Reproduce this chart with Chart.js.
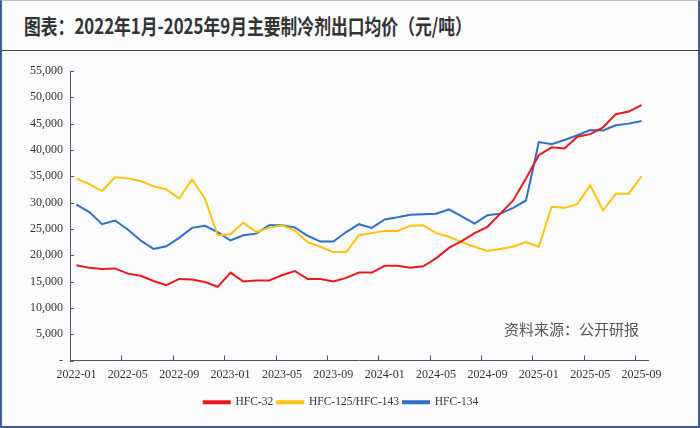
<!DOCTYPE html>
<html>
<head>
<meta charset="utf-8">
<script src="https://cdn.jsdelivr.net/npm/chart.js@4.4.0/dist/chart.umd.min.js"></script>
<style>
  html, body { margin: 0; padding: 0; }
  body { width: 700px; height: 428px; overflow: hidden; }
  #frame {
    position: relative; width: 700px; height: 428px; box-sizing: border-box;
    background: #fbfcfe; border: 2px solid #3f5d8f; border-top: 1px solid #b8c2d4;
  }
  #title {
    position: absolute; left: 22px; top: 7px; height: 34px; line-height: 34px; white-space: nowrap;
    font-family: "Noto Sans CJK SC", sans-serif; font-weight: bold; font-size: 21px; color: #333;
    transform: scaleX(0.8); transform-origin: left center;
  }
  #rule { position: absolute; left: 0; top: 49px; width: 100%; height: 0; border-top: 1.5px solid #444; }
  #source {
    position: absolute; left: 502px; top: 317px;
    font-family: "Noto Sans CJK SC", sans-serif; font-size: 15px; color: #555;
  }
  #wrap { position: absolute; left: -2px; top: 51px; width: 700px; height: 374px; }
</style>
</head>
<body>
<div id="frame">
  <div id="title">图表：2022年1月-2025年9月主要制冷剂出口均价（元/吨）</div>
  <div id="rule"></div>
  <div id="wrap"><canvas id="grafico"></canvas></div>
  <div id="source">资料来源：公开研报</div>
</div>
<script>
/* ------------ Datos ------------ */
const meses = [];
for (let a = 2022; a <= 2025; a++) {
  for (let m = 1; m <= 12; m++) {
    if (a === 2025 && m > 9) break;
    meses.push(a + "-" + String(m).padStart(2, "0"));
  }
}

const hfc32 = [
  18100, 17600, 17400, 17500, 16500, 16100, 15100, 14300, 15500, 15400, 14900, 14000,
  16700, 15000, 15200, 15200, 16200, 17000, 15500, 15500, 15000, 15700, 16700, 16700,
  18000, 18000, 17600, 17900, 19400, 21400, 22700, 24200, 25400, 27900, 30400, 34600,
  39000, 40500, 40300, 42500, 43000, 44300, 46800, 47300, 48500
];
const hfc125 = [
  34600, 33500, 32200, 34800, 34600, 34100, 33100, 32500, 30800, 34400, 30800, 23800,
  24000, 26200, 24400, 25200, 25700, 24700, 22500, 21600, 20600, 20600, 23800, 24200,
  24600, 24600, 25600, 25700, 24200, 23500, 22500, 21600, 20800, 21200, 21600, 22500,
  21600, 29200, 29000, 29700, 33300, 28500, 31700, 31700, 35000
];
const hfc134 = [
  29600, 28200, 25900, 26600, 24900, 22800, 21200, 21700, 23300, 25200, 25600, 24400,
  22800, 23800, 24100, 25700, 25700, 25300, 23700, 22600, 22600, 24400, 25900, 25200,
  26800, 27200, 27700, 27800, 27900, 28700, 27400, 26000, 27600, 27900, 29000, 30400,
  41500, 41100, 41900, 42800, 43800, 43700, 44700, 45000, 45500
];

const series = ["HFC-32", "HFC-125/HFC-143", "HFC-134"];
const colores = ["#e8191e", "#ffc20e", "#2f6fc6"];

/* ------------ Marcas hacia dentro ------------ */
const marcasInternas = {
  id: "marcasInternas",
  afterDraw(chart) {
    const { ctx, chartArea, scales: { x, y } } = chart;
    ctx.save();
    ctx.strokeStyle = "#55555f";
    ctx.lineWidth = 1;
    ctx.beginPath();
    y.ticks.forEach(t => {
      const py = Math.round(y.getPixelForValue(t.value)) + 0.5;
      ctx.moveTo(chartArea.left, py);
      ctx.lineTo(chartArea.left + 4, py);
    });
    const medio = (x.getPixelForValue(1) - x.getPixelForValue(0)) / 2;
    for (let i = 0; i < meses.length; i += 4) {
      const px = Math.round(x.getPixelForValue(i) - medio) + 0.5;
      ctx.moveTo(px, chartArea.bottom);
      ctx.lineTo(px, chartArea.bottom - 5);
    }
    ctx.stroke();
    ctx.restore();
  }
};

const fuente = { family: "'Liberation Serif', serif", size: 12 };

new Chart(document.getElementById("grafico"), {
  type: "line",
  data: {
    labels: meses,
    datasets: [hfc32, hfc125, hfc134].map((d, i) => ({
      label: series[i],
      data: d,
      borderColor: colores[i],
      backgroundColor: colores[i],
      borderWidth: 2,
      pointRadius: 0,
      tension: 0
    }))
  },
  options: {
    responsive: true,
    maintainAspectRatio: false,
    animation: false,
    layout: { padding: { left: 0, right: 18, top: 19, bottom: 8 } },
    plugins: {
      tooltip: { enabled: false },
      legend: {
        position: "bottom",
        labels: {
          boxWidth: 26, boxHeight: 2, padding: 4,
          color: "#333", font: { family: "'Liberation Serif', serif", size: 11.5 }
        }
      }
    },
    scales: {
      x: {
        offset: true,
        afterFit: s => { s.height = 32; },
        grid: { drawOnChartArea: false, drawTicks: false, offset: true },
        border: { color: "#55555f", width: 1 },
        ticks: {
          autoSkip: false, maxRotation: 0, padding: 7, color: "#333", font: fuente,
          callback: (v, i) => (i % 4 === 0 ? meses[i] : null)
        }
      },
      y: {
        min: 0, max: 55000,
        afterFit: s => { s.width = 70; },
        grid: { drawOnChartArea: false, drawTicks: false },
        border: { color: "#55555f", width: 1 },
        ticks: {
          stepSize: 5000, padding: 7, color: "#333", font: fuente,
          callback: v => (v === 0 ? "-" : v.toLocaleString("en-US"))
        }
      },
      // eje vacío a la derecha, solo reserva espacio
      margen: {
        position: "right",
        afterFit: s => { s.width = 34; },
        grid: { display: false },
        border: { display: false },
        ticks: { display: false }
      }
    }
  },
  plugins: [marcasInternas]
});
</script>
</body>
</html>
